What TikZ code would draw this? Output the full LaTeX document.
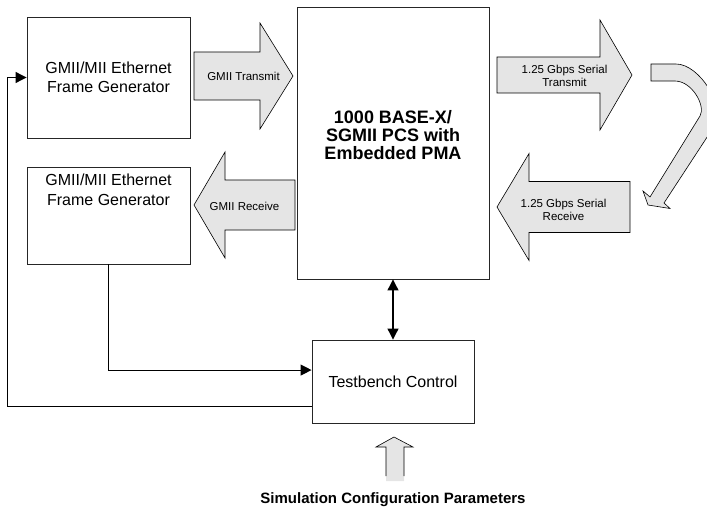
\documentclass[tikz,border=0pt]{standalone}
\usepackage{fontspec}
\setmainfont{Liberation Sans}
\usetikzlibrary{positioning,arrows.meta,calc}
\newcommand{\fatarrow}[6]{\filldraw[fat] (#1,#4-#5) -- (#2,#4-#5) -- (#2,#4-#6) -- (#3,#4) -- (#2,#4+#6) -- (#2,#4+#5) -- (#1,#4+#5) -- cycle;}

\begin{document}
\begin{tikzpicture}[x=1pt,y=-1pt,>={Triangle[length=11pt,width=11pt]},
  box/.style={draw=black!85,line width=0.9pt,minimum width=163pt,inner sep=0pt,align=center,font=\fontsize{16}{19.5}\selectfont},
  fat/.style={fill=gray!20,draw=black,line width=0.6pt},
  lbl/.style={align=center,font=\fontsize{11.5}{13.5}\selectfont},
  conn/.style={line width=1.1pt}]
\useasboundingbox (0,0) rectangle (707,508);
% left: frame generators
\node[box,minimum height=121pt] (gen1) at (108.5,77.5) {GMII/MII Ethernet\\Frame Generator};
\node[box,minimum height=97pt] (gen2) at (108.5,215.5) {};
\node[align=center,font=\fontsize{16}{19.5}\selectfont] (gen2txt) at (108.5,190) {GMII/MII Ethernet\\Frame Generator};
% middle: core and control
\node[box,minimum width=192pt,minimum height=272pt] (pcs) at (393,143) {};
\node[align=center,font=\bfseries\fontsize{18}{18.3}\selectfont] (pcstxt) at (393,135) {1000 BASE-X/\\SGMII PCS with\\Embedded PMA};
\node[box,minimum width=162pt,minimum height=83pt] (tb) at (393,381.5) {Testbench Control};
% data paths
\fatarrow{194}{260}{293}{76}{24}{53}
\node[lbl] (gtx) at (243.5,76) {GMII Transmit};
\fatarrow{295}{225}{194}{205}{25}{53}
\node[lbl] (grx) at (244.5,206) {GMII Receive};
\fatarrow{497}{600}{632}{75}{18}{55}
\node[lbl] (stx) at (564.5,76) {1.25 Gbps Serial\\Transmit};
\fatarrow{630}{529}{497}{207}{25.5}{53.5}
\node[lbl] (srx) at (563.5,210) {1.25 Gbps Serial\\Receive};
% right: loopback
\begin{scope}
\clip (0,0) rectangle (707,508);
\filldraw[fat] (651,64) -- (676,64) .. controls (700,64) and (726,108) .. (715,125) -- (664,203) -- (670,208.5) -- (648,205) -- (643,191) -- (650,197) -- (700,116) .. controls (706,106) and (692,81) .. (675,81) -- (651,81) -- cycle;
\end{scope}
% bottom: parameters
\fill[gray!20] (386,481) -- (386,447) -- (376,447) -- (394,437) -- (413,447) -- (404,447) -- (404,481) -- cycle;
\draw[line width=0.6pt] (386,476) -- (386,447) -- (376,447) -- (394,437) -- (413,447) -- (404,447) -- (404,476);
\node[font=\bfseries\fontsize{15}{18}\selectfont] (cfg) at (393,500) {Simulation Configuration Parameters};
% control lines
\draw[conn,<->] (pcs.south) -- (tb.north);
\draw[conn,->] (gen2.south) |- (tb.172);
\draw[conn,->] (tb.197) -| ([xshift=-19pt]gen1.west) -- (gen1.west);
\end{tikzpicture}
\end{document}
